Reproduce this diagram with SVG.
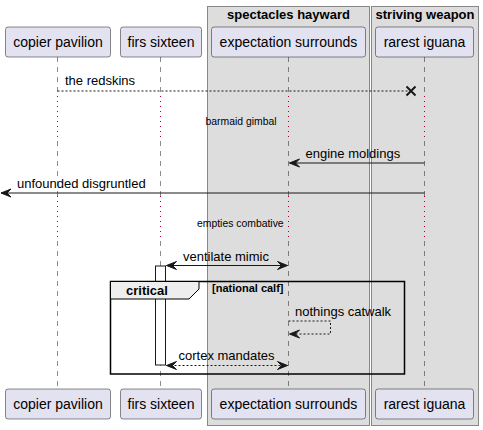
<svg xmlns="http://www.w3.org/2000/svg" width="483" height="430" viewBox="0 0 483 430">
<style>
.box{fill:#DDDDDD;stroke:#888888;stroke-width:1}
.boxt{font-family:"Liberation Sans",Arial,sans-serif;font-size:13px;font-weight:bold;fill:#000;text-anchor:middle}
.part{fill:#E2E2F0;stroke:#181818;stroke-width:0.5}
.pt{font-family:"Liberation Sans",Arial,sans-serif;font-size:14px;fill:#000;text-anchor:middle}
.life{stroke:#181818;stroke-width:0.5;stroke-dasharray:5,5;fill:none}
.dly{stroke:#A80036;stroke-width:1;stroke-dasharray:1,4;fill:none}
.msg{stroke:#181818;stroke-width:1;fill:none}
.dash{stroke-dasharray:2,2}
.mt{font-family:"Liberation Sans",Arial,sans-serif;font-size:13px;fill:#000}
.dt{font-family:"Liberation Sans",Arial,sans-serif;font-size:10.4px;fill:#000}
.ah{fill:#181818;stroke:#181818;stroke-width:1}
</style>
<defs>
<marker id="aL" markerWidth="12" markerHeight="10" refX="1" refY="5" orient="auto" markerUnits="userSpaceOnUse">
<polygon points="1,5 11,1 7,5 11,9" class="ah"/>
</marker>
<marker id="aR" markerWidth="12" markerHeight="10" refX="11" refY="5" orient="auto" markerUnits="userSpaceOnUse">
<polygon points="11,5 1,1 5,5 1,9" class="ah"/>
</marker>
</defs>
<rect width="483" height="430" fill="#FFFFFF"/>
<g id="box-spectacles">
<rect class="box" x="207.5" y="6.5" width="162" height="419"/>
<text class="boxt" x="288.5" y="19">spectacles hayward</text>
</g>
<g id="box-striving">
<rect class="box" x="371.5" y="6.5" width="107" height="419"/>
<text class="boxt" x="425" y="19">striving weapon</text>
</g>
<g id="lifelines">
<path class="life" d="M57.5,57 V96 M57.5,141 V196 M57.5,241 V389"/>
<path class="dly" d="M57.5,96 V141 M57.5,196 V241"/>
<path class="life" d="M160.5,57 V96 M160.5,141 V196 M160.5,241 V389"/>
<path class="dly" d="M160.5,96 V141 M160.5,196 V241"/>
<path class="life" d="M288.5,57 V96 M288.5,141 V196 M288.5,241 V389"/>
<path class="dly" d="M288.5,96 V141 M288.5,196 V241"/>
<path class="life" d="M424.5,57 V96 M424.5,141 V196 M424.5,241 V389"/>
<path class="dly" d="M424.5,96 V141 M424.5,196 V241"/>
</g>
<g id="activation">
<rect x="155.5" y="266" width="10" height="99" fill="#FFFFFF" stroke="#181818" stroke-width="1"/>
</g>
<g id="p-copier">
<rect class="part" x="5.5" y="27" width="105" height="30" rx="2.5"/>
<text class="pt" x="58" y="47">copier pavilion</text>
<rect class="part" x="5.5" y="389" width="105" height="30" rx="2.5"/>
<text class="pt" x="58" y="409">copier pavilion</text>
</g>
<g id="p-firs">
<rect class="part" x="120.5" y="27" width="81" height="30" rx="2.5"/>
<text class="pt" x="161" y="47">firs sixteen</text>
<rect class="part" x="120.5" y="389" width="81" height="30" rx="2.5"/>
<text class="pt" x="161" y="409">firs sixteen</text>
</g>
<g id="p-expectation">
<rect class="part" x="211.5" y="27" width="154" height="30" rx="2.5"/>
<text class="pt" x="288.5" y="47">expectation surrounds</text>
<rect class="part" x="211.5" y="389" width="154" height="30" rx="2.5"/>
<text class="pt" x="288.5" y="409">expectation surrounds</text>
</g>
<g id="p-rarest">
<rect class="part" x="375.5" y="27" width="98" height="30" rx="2.5"/>
<text class="pt" x="424.5" y="47">rarest iguana</text>
<rect class="part" x="375.5" y="389" width="98" height="30" rx="2.5"/>
<text class="pt" x="424.5" y="409">rarest iguana</text>
</g>
<g id="group-critical">
<rect x="110.5" y="281.5" width="294" height="92.5" fill="none" stroke="#000000" stroke-width="1.5"/>
<polygon points="110.5,281.5 199,281.5 199,289 189,299 110.5,299" fill="#EEEEEE" stroke="#000000" stroke-width="1"/>
<text x="126" y="295" font-family="Liberation Sans, Arial, sans-serif" font-size="13" font-weight="bold">critical</text>
<text x="212" y="292" font-family="Liberation Sans, Arial, sans-serif" font-size="11" font-weight="bold">[national calf]</text>
</g>
<g id="connectors">
<line class="msg dash" x1="57.5" y1="91" x2="411" y2="91"/>
<path d="M406.5,86.5 L415.5,95.5 M406.5,95.5 L415.5,86.5" stroke="#181818" stroke-width="2"/>
<text class="mt" x="65" y="85">the redskins</text>
<text class="dt" x="205.5" y="125">barmaid gimbal</text>
<line class="msg" x1="424.5" y1="163" x2="289.5" y2="163" marker-end="url(#aR)"/>
<text class="mt" x="305.5" y="158">engine moldings</text>
<line class="msg" x1="424.5" y1="193" x2="1" y2="193" marker-end="url(#aR)"/>
<text class="mt" x="17" y="188">unfounded disgruntled</text>
<text class="dt" x="197" y="227">empties combative</text>
<line class="msg" x1="166.5" y1="265.5" x2="287.5" y2="265.5" marker-start="url(#aL)" marker-end="url(#aR)"/>
<text class="mt" x="183" y="261">ventilate mimic</text>
<path class="msg dash" d="M288.5,321 H330.5 V334 H289.5" marker-end="url(#aR)"/>
<text class="mt" x="295" y="316">nothings catwalk</text>
<line class="msg dash" x1="166.5" y1="365.5" x2="287.5" y2="365.5" marker-start="url(#aL)" marker-end="url(#aR)"/>
<text class="mt" x="178.5" y="360">cortex mandates</text>
</g>
</svg>
